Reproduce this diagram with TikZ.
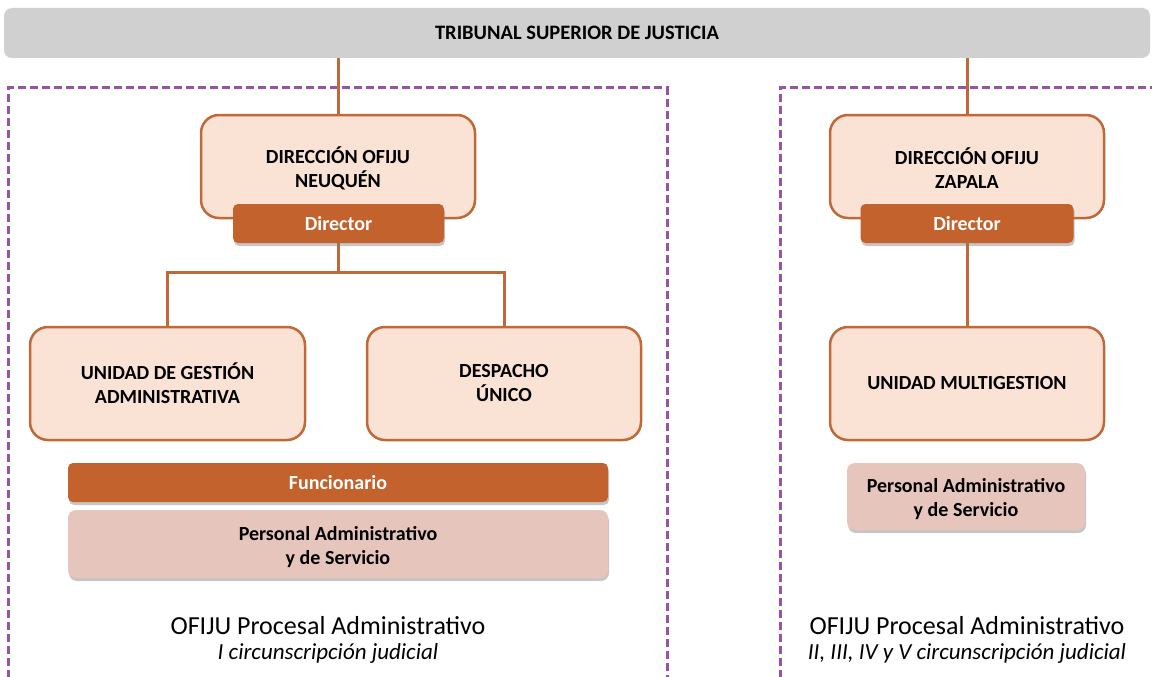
\documentclass[tikz,border=0pt]{standalone}
\usepackage{fontspec}
\setmainfont{Carlito}
\usetikzlibrary{shadows,backgrounds}
\definecolor{tsjgray}{RGB}{208,208,208}
\definecolor{rust}{RGB}{196,98,45}
\definecolor{rustline}{RGB}{192,104,56}
\definecolor{peach}{RGB}{250,226,212}
\definecolor{rose}{RGB}{229,197,188}
\definecolor{lilac}{RGB}{152,84,164}
\pgfdeclarelayer{frames}
\pgfsetlayers{frames,background,main}
\tikzset{
  topbar/.style={fill=tsjgray, rounded corners=8pt, minimum width=1146pt,
    minimum height=50pt, font=\bfseries\fontsize{20.5}{24}\selectfont},
  unitbox/.style={draw=rustline, line width=2.5pt, fill=peach, rounded corners=18pt,
    align=center, font=\bfseries\fontsize{20}{24}\selectfont},
  rolebar/.style={fill=rust, text=white, rounded corners=5pt, minimum height=39pt,
    font=\bfseries\fontsize{20}{24}\selectfont,
    drop shadow={shadow xshift=1pt, shadow yshift=-3pt, opacity=.45}},
  staffbox/.style={fill=rose, rounded corners=8pt, align=center, text height=44pt,
    font=\bfseries\fontsize{20}{24}\selectfont,
    drop shadow={shadow xshift=1pt, shadow yshift=-3pt, opacity=.45}},
  frame/.style={draw=lilac, line width=3pt, dash pattern=on 8pt off 4pt},
  link/.style={draw=rustline, line width=3pt},
  caption/.style={align=center, font=\fontsize{26}{25}\selectfont}
}
\begin{document}
\begin{tikzpicture}[x=1pt, y=-1pt]
  \useasboundingbox (0,0) rectangle (1152,677);

  % dashed frames of both circunscripciones
  \begin{pgfonlayer}{frames}
    \draw[frame] (8,678) -- (8,88) -- (667,88) -- (667,678);
    \draw[frame] (780,678) -- (780,88) -- (1160,88);
  \end{pgfonlayer}

  \node[topbar] (tsj) at (577,33) {TRIBUNAL SUPERIOR DE JUSTICIA};

  % I circunscripcion
  \node[unitbox, minimum width=274pt, minimum height=103pt, text height=44pt] (dirN) at (338,166.5) {DIRECCIÓN OFIJU\\NEUQUÉN};
  \node[rolebar, minimum width=211pt] (dirNd) at (338.5,223.5) {Director};
  \node[unitbox, minimum width=275pt, minimum height=113pt] (uga) at (167.5,383.5) {UNIDAD DE GESTIÓN\\ADMINISTRATIVA};
  \node[unitbox, minimum width=274pt, minimum height=113pt] (desp) at (504,383.5) {DESPACHO\\ÚNICO};
  \node[rolebar, minimum width=540pt] (func) at (338,482.5) {Funcionario};
  \node[staffbox, minimum width=540pt, minimum height=68pt] (persN) at (338,544) {Personal Administrativo\\y de Servicio};
  \node[caption] (capN) at (328,640) {OFIJU Procesal Administrativo\\{\fontsize{23}{25}\selectfont\itshape I circunscripción judicial}};

  % II a V circunscripcion
  \node[unitbox, minimum width=274pt, minimum height=103pt, text height=44pt] (dirZ) at (967,166.5) {DIRECCIÓN OFIJU\\ZAPALA};
  \node[rolebar, minimum width=213pt] (dirZd) at (967,223.5) {Director};
  \node[unitbox, minimum width=274pt, minimum height=113pt] (umg) at (967,383.5) {UNIDAD MULTIGESTION};
  \node[staffbox, minimum width=238pt, minimum height=67pt] (persZ) at (966,496.5) {Personal Administrativo\\y de Servicio};
  \node[caption] (capZ) at (967,640) {OFIJU Procesal Administrativo\\{\fontsize{23}{25}\selectfont\itshape II, III, IV y V circunscripción judicial}};

  \begin{scope}[on background layer]
    \draw[link] (tsj.south -| dirN.north) -- (dirN.north);
    \draw[link] (tsj.south -| dirZ.north) -- (dirZ.north);
    \draw[link] (dirNd.south) -- ++(0,29) coordinate (fork) -| (uga.north);
    \draw[link] (fork) -| (desp.north);
    \draw[link] (dirZd.south) -- (umg.north);
  \end{scope}
\end{tikzpicture}
\end{document}
